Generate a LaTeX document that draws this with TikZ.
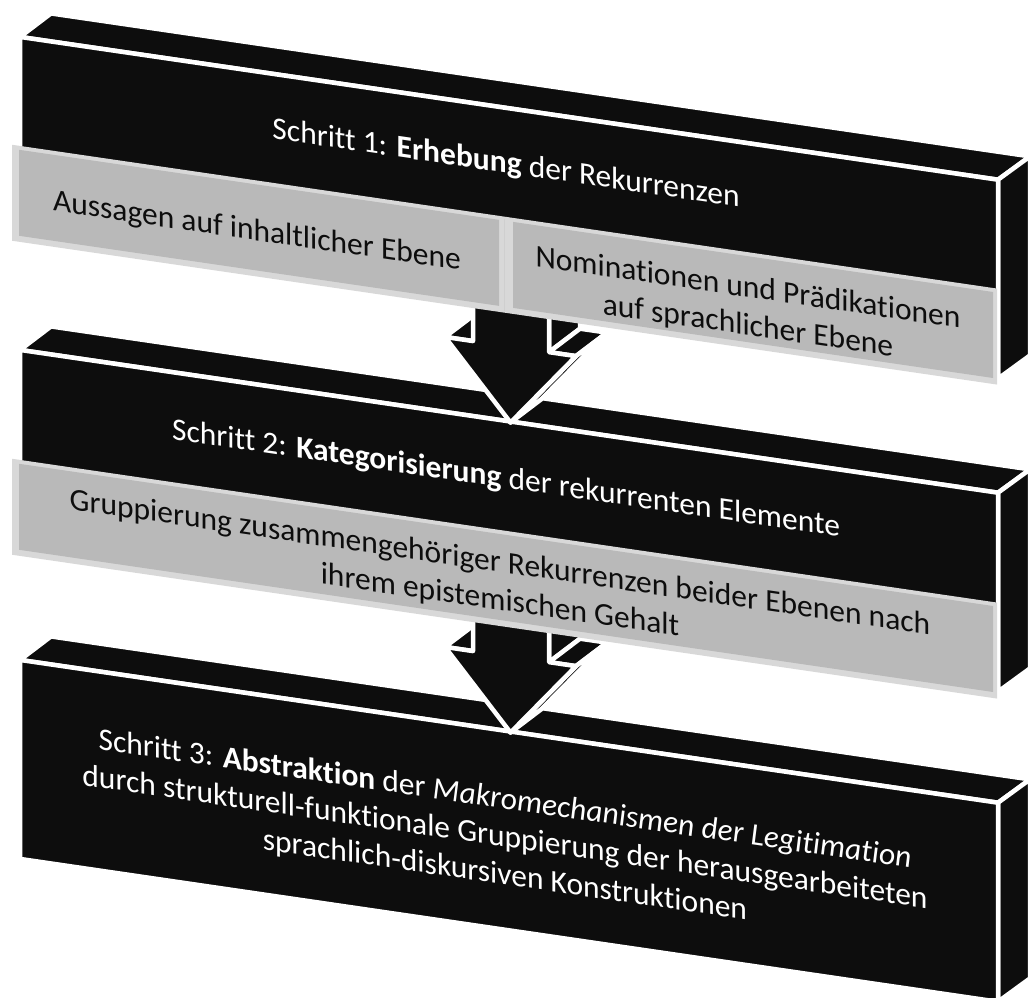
\documentclass[tikz,border=0pt]{standalone}
\usepackage{fontspec}
\setmainfont{Carlito}[Ligatures=NoCommon]
\definecolor{boxblack}{RGB}{13,13,13}
\definecolor{grayfill}{RGB}{185,185,185}
\definecolor{grayedge}{RGB}{216,216,216}
\tikzset{
  face/.style={fill=boxblack, draw=white, line width=4.5pt, line join=round},
  stepfont/.style={font=\fontsize{31.5}{38}\selectfont, align=center, anchor=base, inner sep=0pt, transform shape},
  whitetext/.style={stepfont, text=white},
  darktext/.style={stepfont, text=boxblack},
}
\newcommand\slabblock[1]{%
  \draw[face] (20,#1) -- (51,{#1-28}) -- (1030,{#1-28}) -- (998,#1) -- cycle;
  \draw[face] (998,#1) -- (1030,{#1-28}) -- (1030,{#1+171}) -- (998,{#1+199}) -- cycle;
  \draw[face] (20,#1) rectangle (998,{#1+199});
}
\newcommand\grayouter[3]{% x1, x2, Y
  \fill[grayedge] (#1,#3) rectangle (#2,{#3+96});
}
\newcommand\grayinner[3]{% x1, x2, Y
  \fill[grayfill] ({#1+7},{#3+4}) rectangle ({#2-4},{#3+90});
}
\newcommand\blockarrow[1]{% Y of head base
  \draw[face] (445,#1) -- (476,{#1-28}) -- (504,{#1-28}) -- (473,#1) -- cycle;
  \draw[face] (549,{#1}) -- (580,{#1-28}) -- (580,{#1-98}) -- (549,{#1-70}) -- cycle;
  \draw[face] (549,#1) -- (580,{#1-28}) -- (607,{#1-28}) -- (576,#1) -- cycle;
  \draw[face] (576,#1) -- (607,{#1-28}) -- (541.5,{#1+48}) -- (510.5,{#1+76}) -- cycle;
  \draw[face] (473,{#1-70}) -- (473,#1) -- (445,#1) -- (510.5,{#1+76}) -- (576,#1) -- (549,#1) -- (549,{#1-70}) -- cycle;
}
\begin{document}
\begin{tikzpicture}[x=1pt,y=-1pt]
\useasboundingbox (0,0) rectangle (1029,997);
\begin{scope}[yslant=-0.146]
  \slabblock{657}
  \slabblock{347}
  \blockarrow{582}
  \grayouter{12}{997}{457}
  \grayinner{12}{997}{457}
  \slabblock{34}
  \blockarrow{272}
  \grayouter{12}{997}{143}
  \grayinner{12}{503}{143}
  \grayinner{506}{997}{143}
  \draw[grayedge!70!grayfill, line width=1.2pt] (504.5,{143+2}) -- (504.5,{143+94});

  \node[whitetext] (t1) at (506,99) {Schritt 1: \textbf{Erhebung} der Rekurrenzen};
  \node[darktext] (t2) at (257,203) {Aussagen auf inhaltlicher Ebene};
  \node[darktext] (t3) at (748,226) {Nominationen und Prädikationen\\auf sprachlicher Ebene};
  \node[whitetext] (t4) at (506,414) {Schritt 2: \textbf{Kategorisierung} der rekurrenten Elemente};
  \node[darktext] (t5) at (500,537) {Gruppierung zusammengehöriger Rekurrenzen beider Ebenen nach\\ihrem epistemischen Gehalt};
  \node[whitetext] (t6) at (505,811) {Schritt 3: \textbf{Abstraktion} der \textit{Makromechanismen der Legitimation}\\durch strukturell-funktionale Gruppierung der herausgearbeiteten\\sprachlich-diskursiven Konstruktionen};
\end{scope}
\end{tikzpicture}
\end{document}
